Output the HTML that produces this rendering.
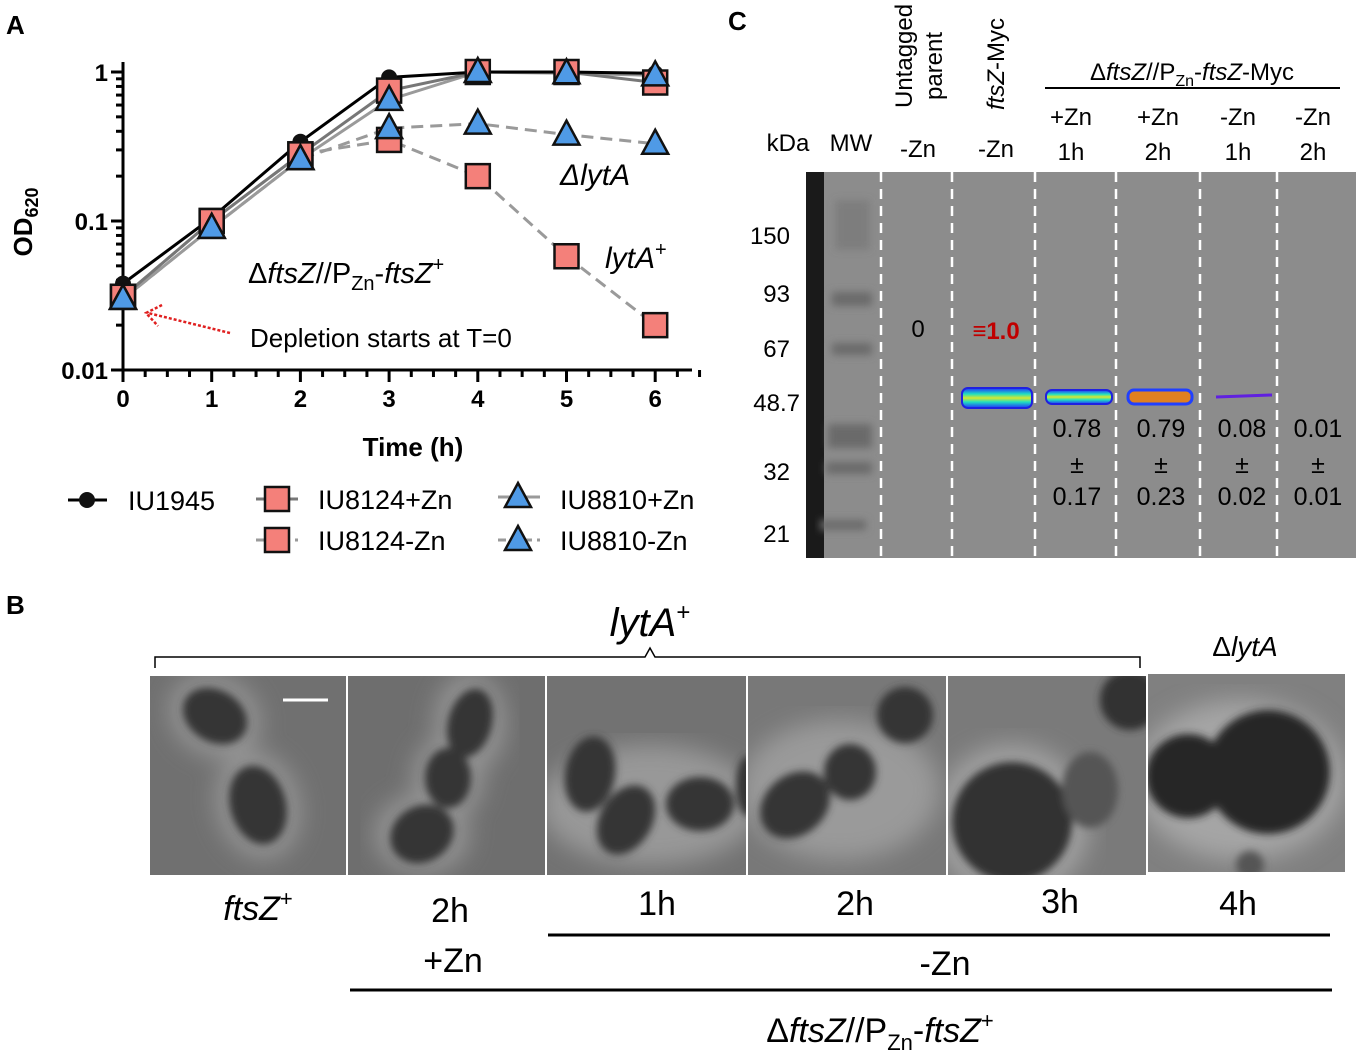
<!DOCTYPE html>
<html><head><meta charset="utf-8"><style>
body{margin:0;background:#fff;width:1356px;height:1056px;overflow:hidden;font-family:"Liberation Sans",Arial,sans-serif}
svg{position:absolute;left:0;top:0}
</style></head><body>
<svg width="1356" height="1056" viewBox="0 0 1356 1056" font-family="Liberation Sans, Arial, sans-serif">
<defs>
<filter id="blur4"><feGaussianBlur stdDeviation="4"/></filter>
<filter id="blur10"><feGaussianBlur stdDeviation="12"/></filter>
<linearGradient id="bandg" x1="0" y1="0" x2="0" y2="1"><stop offset="0" stop-color="#2030ff"/><stop offset="0.3" stop-color="#20e0c0"/><stop offset="0.5" stop-color="#d8e830"/><stop offset="0.7" stop-color="#20e0c0"/><stop offset="1" stop-color="#2030ff"/></linearGradient>
<clipPath id="c1"><rect x="150" y="676" width="196" height="199"/></clipPath>
<clipPath id="c2"><rect x="348" y="676" width="197" height="199"/></clipPath>
<clipPath id="c3"><rect x="547" y="676" width="199" height="199"/></clipPath>
<clipPath id="c4"><rect x="748" y="676" width="198" height="199"/></clipPath>
<clipPath id="c5"><rect x="948" y="676" width="198" height="199"/></clipPath>
<clipPath id="c6"><rect x="1148" y="674" width="197" height="198"/></clipPath>
</defs>

<text x="6" y="34" font-size="26" font-weight="bold">A</text>
<text x="728" y="30" font-size="26" font-weight="bold">C</text>
<text x="6" y="614" font-size="26" font-weight="bold">B</text>

<g id="chartA"></g>

<g>
  <rect x="806" y="172" width="550" height="386" fill="#8c8c8c"/>
  <rect x="806" y="172" width="18" height="386" fill="#1a1a1a"/>
  <g fill="#6a6a6a" filter="url(#blur4)">
    <rect x="832" y="292" width="40" height="14"/><rect x="832" y="343" width="40" height="12"/>
    <rect x="828" y="424" width="44" height="24"/><rect x="826" y="462" width="46" height="12"/>
    <rect x="820" y="520" width="46" height="10"/><rect x="835" y="200" width="35" height="50" opacity=".4"/>
  </g>
  <g stroke="#fff" stroke-width="2.5" stroke-dasharray="10,7">
    <line x1="881" y1="172" x2="881" y2="558"/><line x1="952" y1="172" x2="952" y2="558"/>
    <line x1="1035" y1="172" x2="1035" y2="558"/><line x1="1116" y1="172" x2="1116" y2="558"/>
    <line x1="1200" y1="172" x2="1200" y2="558"/><line x1="1277" y1="172" x2="1277" y2="558"/>
  </g>
  <rect x="962" y="388" width="70" height="20" rx="6" fill="url(#bandg)" stroke="#2020e0" stroke-width="2"/>
  <rect x="1046" y="390" width="66" height="14" rx="6" fill="url(#bandg)" stroke="#2020e0" stroke-width="2"/>
  <rect x="1128" y="390" width="64" height="14" rx="6" fill="#e08020" stroke="#2040ff" stroke-width="3"/>
  <line x1="1216" y1="397" x2="1272" y2="395" stroke="#6020e0" stroke-width="3"/>
  <g font-size="24" text-anchor="end">
    <text x="790" y="244">150</text><text x="790" y="302">93</text><text x="790" y="357">67</text>
    <text x="800" y="411">48.7</text><text x="790" y="480">32</text><text x="790" y="542">21</text>
  </g>
  <text x="918" y="337" font-size="24" text-anchor="middle">0</text>
  <text x="996" y="339" font-size="24" font-weight="bold" fill="#c00000" text-anchor="middle">≡1.0</text>
  <g font-size="25" text-anchor="middle">
    <text x="1077" y="437">0.78</text><text x="1077" y="473">±</text><text x="1077" y="505">0.17</text>
    <text x="1161" y="437">0.79</text><text x="1161" y="473">±</text><text x="1161" y="505">0.23</text>
    <text x="1242" y="437">0.08</text><text x="1242" y="473">±</text><text x="1242" y="505">0.02</text>
    <text x="1318" y="437">0.01</text><text x="1318" y="473">±</text><text x="1318" y="505">0.01</text>
  </g>
  <g font-size="24">
    <text x="788" y="151" text-anchor="middle">kDa</text><text x="851" y="151" text-anchor="middle">MW</text>
    <text x="918" y="157" text-anchor="middle">-Zn</text><text x="996" y="157" text-anchor="middle">-Zn</text>
    <text x="1071" y="125" text-anchor="middle">+Zn</text><text x="1071" y="160" text-anchor="middle">1h</text>
    <text x="1158" y="125" text-anchor="middle">+Zn</text><text x="1158" y="160" text-anchor="middle">2h</text>
    <text x="1238" y="125" text-anchor="middle">-Zn</text><text x="1238" y="160" text-anchor="middle">1h</text>
    <text x="1313" y="125" text-anchor="middle">-Zn</text><text x="1313" y="160" text-anchor="middle">2h</text>
    <text transform="translate(912,108) rotate(-90)">Untagged</text>
    <text transform="translate(942,100) rotate(-90)">parent</text>
    <text transform="translate(1004,110) rotate(-90)"><tspan font-style="italic">ftsZ</tspan>-Myc</text>
    <text x="1192" y="80" text-anchor="middle">Δ<tspan font-style="italic">ftsZ</tspan>//P<tspan font-size="16" dy="6">Zn</tspan><tspan dy="-6">-</tspan><tspan font-style="italic">ftsZ</tspan>-Myc</text>
  </g>
  <line x1="1045" y1="88" x2="1340" y2="88" stroke="#000" stroke-width="2"/>
</g>

<g>
  <path d="M155,668 V657 H645 L650,648 L655,657 H1140 V668" fill="none" stroke="#000" stroke-width="1.5"/>
  <text x="650" y="636" font-size="40" font-style="italic" text-anchor="middle">lytA<tspan font-size="24" dy="-16" font-style="normal">+</tspan></text>
  <text x="1245" y="656" font-size="28" text-anchor="middle">Δ<tspan font-style="italic">lytA</tspan></text>

  <g clip-path="url(#c1)">
    <rect x="150" y="676" width="196" height="199" fill="#707070"/>
    <g fill="#939393" filter="url(#blur10)"><ellipse cx="215" cy="716" rx="48" ry="40" transform="rotate(30 215 716)"/><ellipse cx="258" cy="805" rx="42" ry="55" transform="rotate(-15 258 805)"/></g>
    <g fill="#353535" filter="url(#blur4)"><ellipse cx="215" cy="716" rx="34" ry="26" transform="rotate(30 215 716)"/><ellipse cx="258" cy="805" rx="28" ry="40" transform="rotate(-15 258 805)"/></g>
    <line x1="283" y1="700" x2="328" y2="700" stroke="#fff" stroke-width="3"/>
  </g>
  <g clip-path="url(#c2)">
    <rect x="348" y="676" width="197" height="199" fill="#6e6e6e"/>
    <g fill="#939393" filter="url(#blur10)"><ellipse cx="470" cy="723" rx="36" ry="50"/><ellipse cx="448" cy="778" rx="36" ry="42"/><ellipse cx="422" cy="834" rx="48" ry="40"/></g>
    <g fill="#353535" filter="url(#blur4)"><ellipse cx="470" cy="723" rx="22" ry="35" transform="rotate(15 470 723)"/><ellipse cx="448" cy="778" rx="23" ry="30"/><ellipse cx="422" cy="834" rx="33" ry="28" transform="rotate(-30 422 834)"/></g>
  </g>
  <g clip-path="url(#c3)">
    <rect x="547" y="676" width="199" height="199" fill="#727272"/>
    <ellipse cx="650" cy="805" rx="110" ry="60" fill="#989898" filter="url(#blur10)"/>
    <g fill="#353535" filter="url(#blur4)"><ellipse cx="590" cy="774" rx="25" ry="38" transform="rotate(10 590 774)"/><ellipse cx="626" cy="820" rx="26" ry="37" transform="rotate(30 626 820)"/><ellipse cx="700" cy="804" rx="34" ry="27"/><ellipse cx="748" cy="786" rx="12" ry="30"/></g>
  </g>
  <g clip-path="url(#c4)">
    <rect x="748" y="676" width="198" height="199" fill="#787878"/>
    <ellipse cx="840" cy="790" rx="100" ry="70" fill="#9a9a9a" filter="url(#blur10)"/>
    <g fill="#353535" filter="url(#blur4)"><ellipse cx="795" cy="805" rx="38" ry="30" transform="rotate(-40 795 805)"/><ellipse cx="850" cy="772" rx="26" ry="28"/><ellipse cx="905" cy="715" rx="28" ry="28"/></g>
  </g>
  <g clip-path="url(#c5)">
    <rect x="948" y="676" width="198" height="199" fill="#7a7a7a"/>
    <circle cx="1012" cy="822" r="78" fill="#a0a0a0" filter="url(#blur10)"/>
    <g fill="#303030" filter="url(#blur4)"><circle cx="1012" cy="822" r="60"/><ellipse cx="1090" cy="790" rx="28" ry="38" fill="#555"/><circle cx="1130" cy="700" r="30"/></g>
  </g>
  <g clip-path="url(#c6)">
    <rect x="1148" y="674" width="197" height="198" fill="#808080"/>
    <ellipse cx="1240" cy="780" rx="105" ry="80" fill="#a5a5a5" filter="url(#blur10)"/>
    <g fill="#262626" filter="url(#blur4)"><circle cx="1188" cy="776" r="42"/><circle cx="1268" cy="772" r="62"/><circle cx="1250" cy="865" r="14" fill="#555"/></g>
  </g>
  <rect x="346" y="676" width="2" height="199" fill="#fff"/><rect x="545" y="676" width="2" height="199" fill="#fff"/>
  <rect x="746" y="676" width="2" height="199" fill="#fff"/><rect x="946" y="676" width="2" height="199" fill="#fff"/>

  <g font-size="34" text-anchor="middle">
    <text x="258" y="920" font-style="italic">ftsZ<tspan font-size="22" dy="-14" font-style="normal">+</tspan></text>
    <text x="450" y="922">2h</text><text x="453" y="972">+Zn</text>
    <text x="657" y="915">1h</text><text x="855" y="915">2h</text><text x="1060" y="913">3h</text><text x="1238" y="915">4h</text>
    <text x="945" y="975">-Zn</text>
    <text x="880" y="1042">Δ<tspan font-style="italic">ftsZ</tspan>//P<tspan font-size="22" dy="8">Zn</tspan><tspan dy="-8">-</tspan><tspan font-style="italic">ftsZ</tspan><tspan font-size="22" dy="-14">+</tspan></text>
  </g>
  <line x1="548" y1="935" x2="1330" y2="935" stroke="#000" stroke-width="3"/>
  <line x1="350" y1="990" x2="1332" y2="990" stroke="#000" stroke-width="3"/>
</g>
</svg>

<script>
const times = [0, 1, 2, 3, 4, 5, 6];
const iu1945 = [0.038, 0.105, 0.34, 0.92, 1.0, 1.0, 0.98];
const iu8124Plus = [0.031, 0.1, 0.28, 0.75, 1.0, 1.0, 0.85];
const iu8124Minus = [0.031, 0.1, 0.28, 0.35, 0.2, 0.058, 0.02];
const iu8810Plus = [0.03, 0.09, 0.26, 0.65, 1.0, 0.98, 0.95];
const iu8810Minus = [0.03, 0.09, 0.26, 0.42, 0.45, 0.38, 0.33];
const yTicks = [0.01, 0.1, 1];
const yTickLabels = ["0.01", "0.1", "1"];

const NS = "http://www.w3.org/2000/svg";
const g = document.getElementById("chartA");
const X0 = 123, XS = 88.7, YTOP = 72, YBOT = 370;
function xs(t){ return X0 + t * XS; }
function ys(v){ return YBOT - (Math.log10(v) + 2) / 2 * (YBOT - YTOP); }
function mk(tag, attrs, parent){ const e = document.createElementNS(NS, tag); for (const k in attrs) e.setAttribute(k, attrs[k]); (parent || g).appendChild(e); return e; }

let ax = mk("line", {x1: X0, y1: 62, x2: X0, y2: YBOT, stroke: "#000", "stroke-width": 3});


let axx = mk("line", {x1: X0 - 1, y1: YBOT, x2: 692, y2: YBOT, stroke: "#000", "stroke-width": 3});


for (let d = -2; d < 0; d++) {
  for (let m = 2; m <= 9; m++) {
    const v = Math.pow(10, d) * m;
    const t = mk("line", {x1: X0 - 7, y1: ys(v), x2: X0, y2: ys(v), stroke: "#000", "stroke-width": 3});
    
    
  }
}
yTicks.forEach((v, i) => {
  const t = mk("line", {x1: X0 - 12, y1: ys(v), x2: X0, y2: ys(v), stroke: "#000", "stroke-width": 3});
  
  
  const l = mk("text", {x: X0 - 15, y: ys(v) + 9, "font-size": 24, "font-weight": "bold", "text-anchor": "end"});
  l.textContent = yTickLabels[i];
  
  
});
for (let q = 0; q <= 26; q++) {
  const t = q / 4;
  const major = q % 4 === 0;
  const tk = mk("line", {x1: xs(t), y1: YBOT, x2: xs(t), y2: YBOT + (major ? 12 : 7), stroke: "#000", "stroke-width": 3});
  
  
}
times.forEach(t => {
  const l = mk("text", {x: xs(t), y: 407, "font-size": 24, "font-weight": "bold", "text-anchor": "middle"});
  l.textContent = String(t);
  
  
});
let xt = mk("text", {x: 413, y: 456, "font-size": 26, "font-weight": "bold", "text-anchor": "middle"});
xt.textContent = "Time (h)";


let yt = mk("text", {transform: "translate(32,222) rotate(-90)", "font-size": 26, "font-weight": "bold", "text-anchor": "middle"});
yt.innerHTML = 'OD<tspan font-size="18" dy="6">620</tspan>';



function line(vals, color, dash, name){
  const p = mk("polyline", {points: vals.map((v, i) => xs(times[i]) + "," + ys(v)).join(" "), fill: "none", stroke: color, "stroke-width": 3, "stroke-dasharray": dash || "none"});
  
  
}
function sq(x, y, name){
  const r = mk("rect", {x: x - 12, y: y - 12, width: 24, height: 24, fill: "#f4807a", stroke: "#111", "stroke-width": 2.5});
  
  
}
function tri(x, y, name){
  const p = mk("polygon", {points: `${x},${y-14} ${x+13},${y+10} ${x-13},${y+10}`, fill: "#4f9ae6", stroke: "#111", "stroke-width": 2.5});
  
  
}
function circ(x, y, name){
  const c = mk("circle", {cx: x, cy: y, r: 8, fill: "#111"});
  
  
}
line(iu8124Minus, "#9a9a9a", "12,7", "line-iu8124-minus-zn");
line(iu8810Minus, "#9a9a9a", "12,7", "line-iu8810-minus-zn");
line(iu8810Plus, "#9a9a9a", "", "line-iu8810-plus-zn");
line(iu8124Plus, "#777", "", "line-iu8124-plus-zn");
line(iu1945, "#000", "", "line-iu1945");
iu1945.forEach((v, i) => circ(xs(times[i]), ys(v), "point-iu1945"));
iu8124Plus.forEach((v, i) => sq(xs(times[i]), ys(v), "point-iu8124-plus-zn"));
iu8124Minus.forEach((v, i) => sq(xs(times[i]), ys(v), "point-iu8124-minus-zn"));
iu8810Plus.forEach((v, i) => tri(xs(times[i]), ys(v), "point-iu8810-plus-zn"));
iu8810Minus.forEach((v, i) => tri(xs(times[i]), ys(v), "point-iu8810-minus-zn"));

let a1 = mk("text", {x: 560, y: 185, "font-size": 30, "font-style": "italic"}); a1.textContent = "ΔlytA";
 
let a2 = mk("text", {x: 605, y: 268, "font-size": 30, "font-style": "italic"}); a2.innerHTML = 'lytA<tspan font-size="20" dy="-12" font-style="normal">+</tspan>';
 
let a3 = mk("text", {x: 248, y: 283, "font-size": 29}); a3.innerHTML = 'Δ<tspan font-style="italic">ftsZ</tspan>//P<tspan font-size="20" dy="7">Zn</tspan><tspan dy="-7">-</tspan><tspan font-style="italic">ftsZ</tspan><tspan font-size="20" dy="-12">+</tspan>';
 
let a4 = mk("text", {x: 250, y: 347, "font-size": 26}); a4.textContent = "Depletion starts at T=0";
 
let ar = mk("path", {d: "M230,333 L148,313 M162,305 L146,313 L158,326", fill: "none", stroke: "#e02020", "stroke-width": 2.5, "stroke-dasharray": "3,2"});
 

const legendNames = ["IU1945", "IU8124+Zn", "IU8124-Zn", "IU8810+Zn", "IU8810-Zn"];
function legLine(x1, x2, y, color, dash){
  const l = mk("line", {x1: x1, y1: y, x2: x2, y2: y, stroke: color, "stroke-width": 3, "stroke-dasharray": dash || "none"});
   
}
function legText(x, y, s){
  const t = mk("text", {x: x, y: y + 10, "font-size": 27}); t.textContent = s;
   
}
legLine(68, 107, 500, "#000"); circ(87, 500, "legend-marker-iu1945"); legText(128, 500, legendNames[0]);
legLine(256, 298, 499, "#777"); sq(277, 499, "legend-marker-iu8124-plus"); legText(318, 499, legendNames[1]);
legLine(256, 298, 540, "#9a9a9a", "8,5"); sq(277, 540, "legend-marker-iu8124-minus"); legText(318, 540, legendNames[2]);
legLine(498, 540, 497, "#9a9a9a"); tri(518, 497, "legend-marker-iu8810-plus"); legText(560, 499, legendNames[3]);
legLine(498, 540, 540, "#9a9a9a", "8,5"); tri(518, 540, "legend-marker-iu8810-minus"); legText(560, 540, legendNames[4]);
</script>
</body></html>
